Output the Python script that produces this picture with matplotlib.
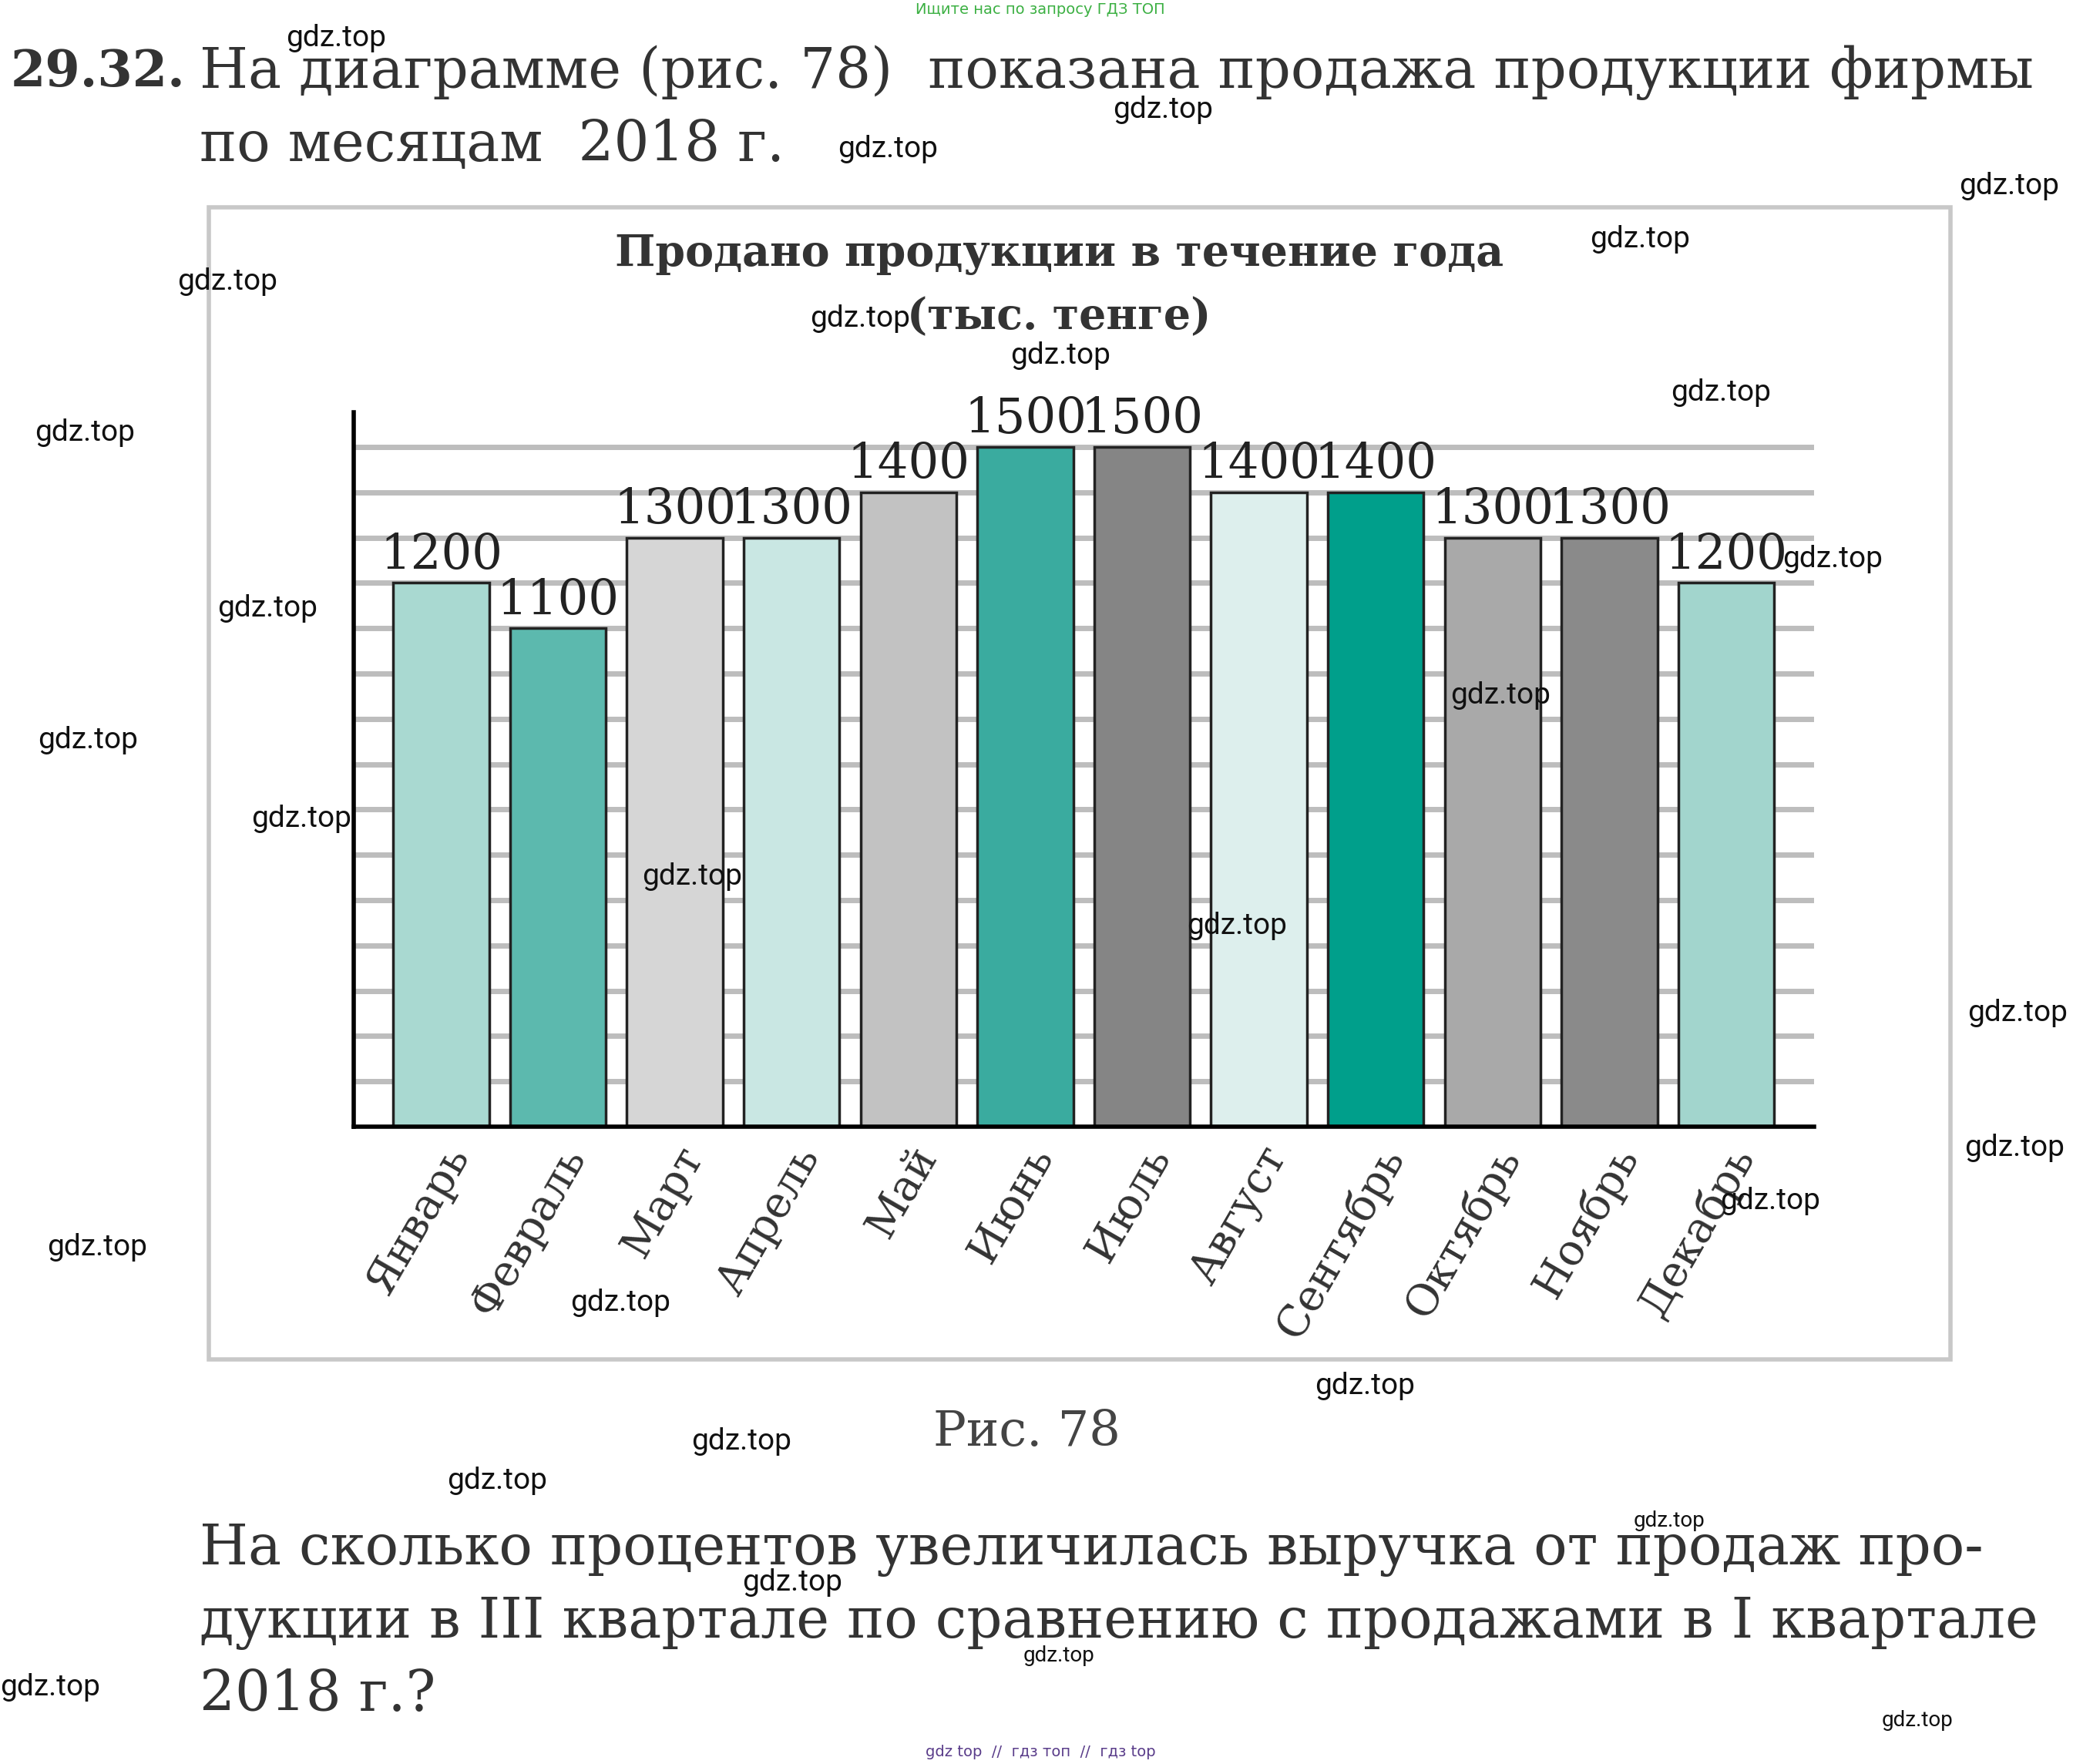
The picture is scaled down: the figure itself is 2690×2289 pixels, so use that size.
import matplotlib
matplotlib.use("Agg")
import matplotlib.pyplot as plt
from matplotlib.patches import Rectangle

months = ["Январь","Февраль","Март","Апрель","Май","Июнь","Июль","Август","Сентябрь","Октябрь","Ноябрь","Декабрь"]
values = [1200,1100,1300,1300,1400,1500,1500,1400,1400,1300,1300,1200]
colors = ["#a9d9d1","#5cb9ae","#d6d6d6","#c9e7e3","#c2c2c2","#3aab9f","#858585","#ddefed","#009f8b","#a9a9a9","#8a8a8a","#a2d5cd"]
grid_vals = list(range(100, 1600, 100))

W, H = 1560, 1334
fig = plt.figure(figsize=(26.9, 22.89), dpi=100)
def fx(x): return x / W
def fy(y): return 1 - y / H

fig.patches.append(Rectangle((fx(157), fy(1028)), fx(1468) - fx(157), fy(157) - fy(1028),
                             transform=fig.transFigure, fill=False, edgecolor="#c8c8c8", linewidth=4))

ax = fig.add_axes([fx(266), fy(852), fx(1365) - fx(266), fy(312) - fy(852)])
for g in grid_vals:
    ax.axhline(g, color="#bdbdbd", linewidth=5, zorder=0)
ax.bar(range(12), values, width=0.82, color=colors, edgecolor="#222222", linewidth=2.5, zorder=2)
for i, v in enumerate(values):
    ax.text(i, v + 8, str(v), ha="center", va="bottom", fontsize=45, family="DejaVu Serif", color="#222222")
ax.set_xlim(-0.75, 11.75)
ax.set_ylim(0, 1576)
ax.set_yticks([])
ax.set_xticks(range(12))
ax.set_xticklabels(months, rotation=60, ha="right", rotation_mode="anchor", fontsize=40,
                   family="DejaVu Serif", color="#333333")
ax.tick_params(axis="x", length=0, pad=12)
for s in ["top", "right"]:
    ax.spines[s].set_visible(False)
ax.spines["left"].set_linewidth(4)
ax.spines["bottom"].set_linewidth(4)
ax.patch.set_alpha(0)

serif = "DejaVu Serif"
fig.text(fx(8), fy(55), "29.32.", fontsize=47, fontweight="bold", family=serif, va="center", color="#333333")
fig.text(fx(150), fy(55), "На диаграмме (рис. 78)  показана продажа продукции фирмы", fontsize=52, family=serif, va="center", color="#333333")
fig.text(fx(150), fy(110), "по месяцам  2018 г.", fontsize=52, family=serif, va="center", color="#333333")
fig.text(fx(797), fy(192), "Продано продукции в течение года", fontsize=40, fontweight="bold", family=serif, ha="center", va="center", color="#333333")
fig.text(fx(797), fy(240), "(тыс. тенге)", fontsize=40, fontweight="bold", family=serif, ha="center", va="center", color="#333333")
fig.text(fx(773), fy(1083), "Рис. 78", fontsize=46, family=serif, ha="center", va="center", color="#444444")
fig.text(fx(150), fy(1172), "На сколько процентов увеличилась выручка от продаж про-", fontsize=52, family=serif, va="center", color="#333333")
fig.text(fx(150), fy(1227), "дукции в III квартале по сравнению с продажами в I квартале", fontsize=52, family=serif, va="center", color="#333333")
fig.text(fx(150), fy(1282), "2018 г.?", fontsize=52, family=serif, va="center", color="#333333")

fig.text(fx(783), fy(7), "Ищите нас по запросу ГДЗ ТОП", fontsize=14, color="#3cb043", ha="center", va="center")
fig.text(fx(783), fy(1325), "gdz top  //  гдз топ  //  гдз top", fontsize=14, color="#5a3d8a", ha="center", va="center")
wm = [(253,29),(875,83),(668,113),(1512,141),(1234,181),(171,213),(647,241),(798,269),(1295,297),(64,327),
      (1379,423),(201,460),(1129,526),(66,560),(227,619),(521,663),(931,700),(1518,766),(1516,868),(1332,908),
      (73,943),(467,985),(1027,1048),(558,1090),(374,1120),(1256,1150),(596,1197),(797,1252),(38,1276),(1443,1301)]
for x, y in wm:
    fs = 20 if (x, y) in [(1256,1150),(797,1252),(1443,1301)] else 28
    fig.text(fx(x), fy(y), "gdz.top", fontsize=fs, ha="center", va="center", color="#111111", family="Roboto")

fig.savefig("out.png", dpi=100, facecolor="white")
